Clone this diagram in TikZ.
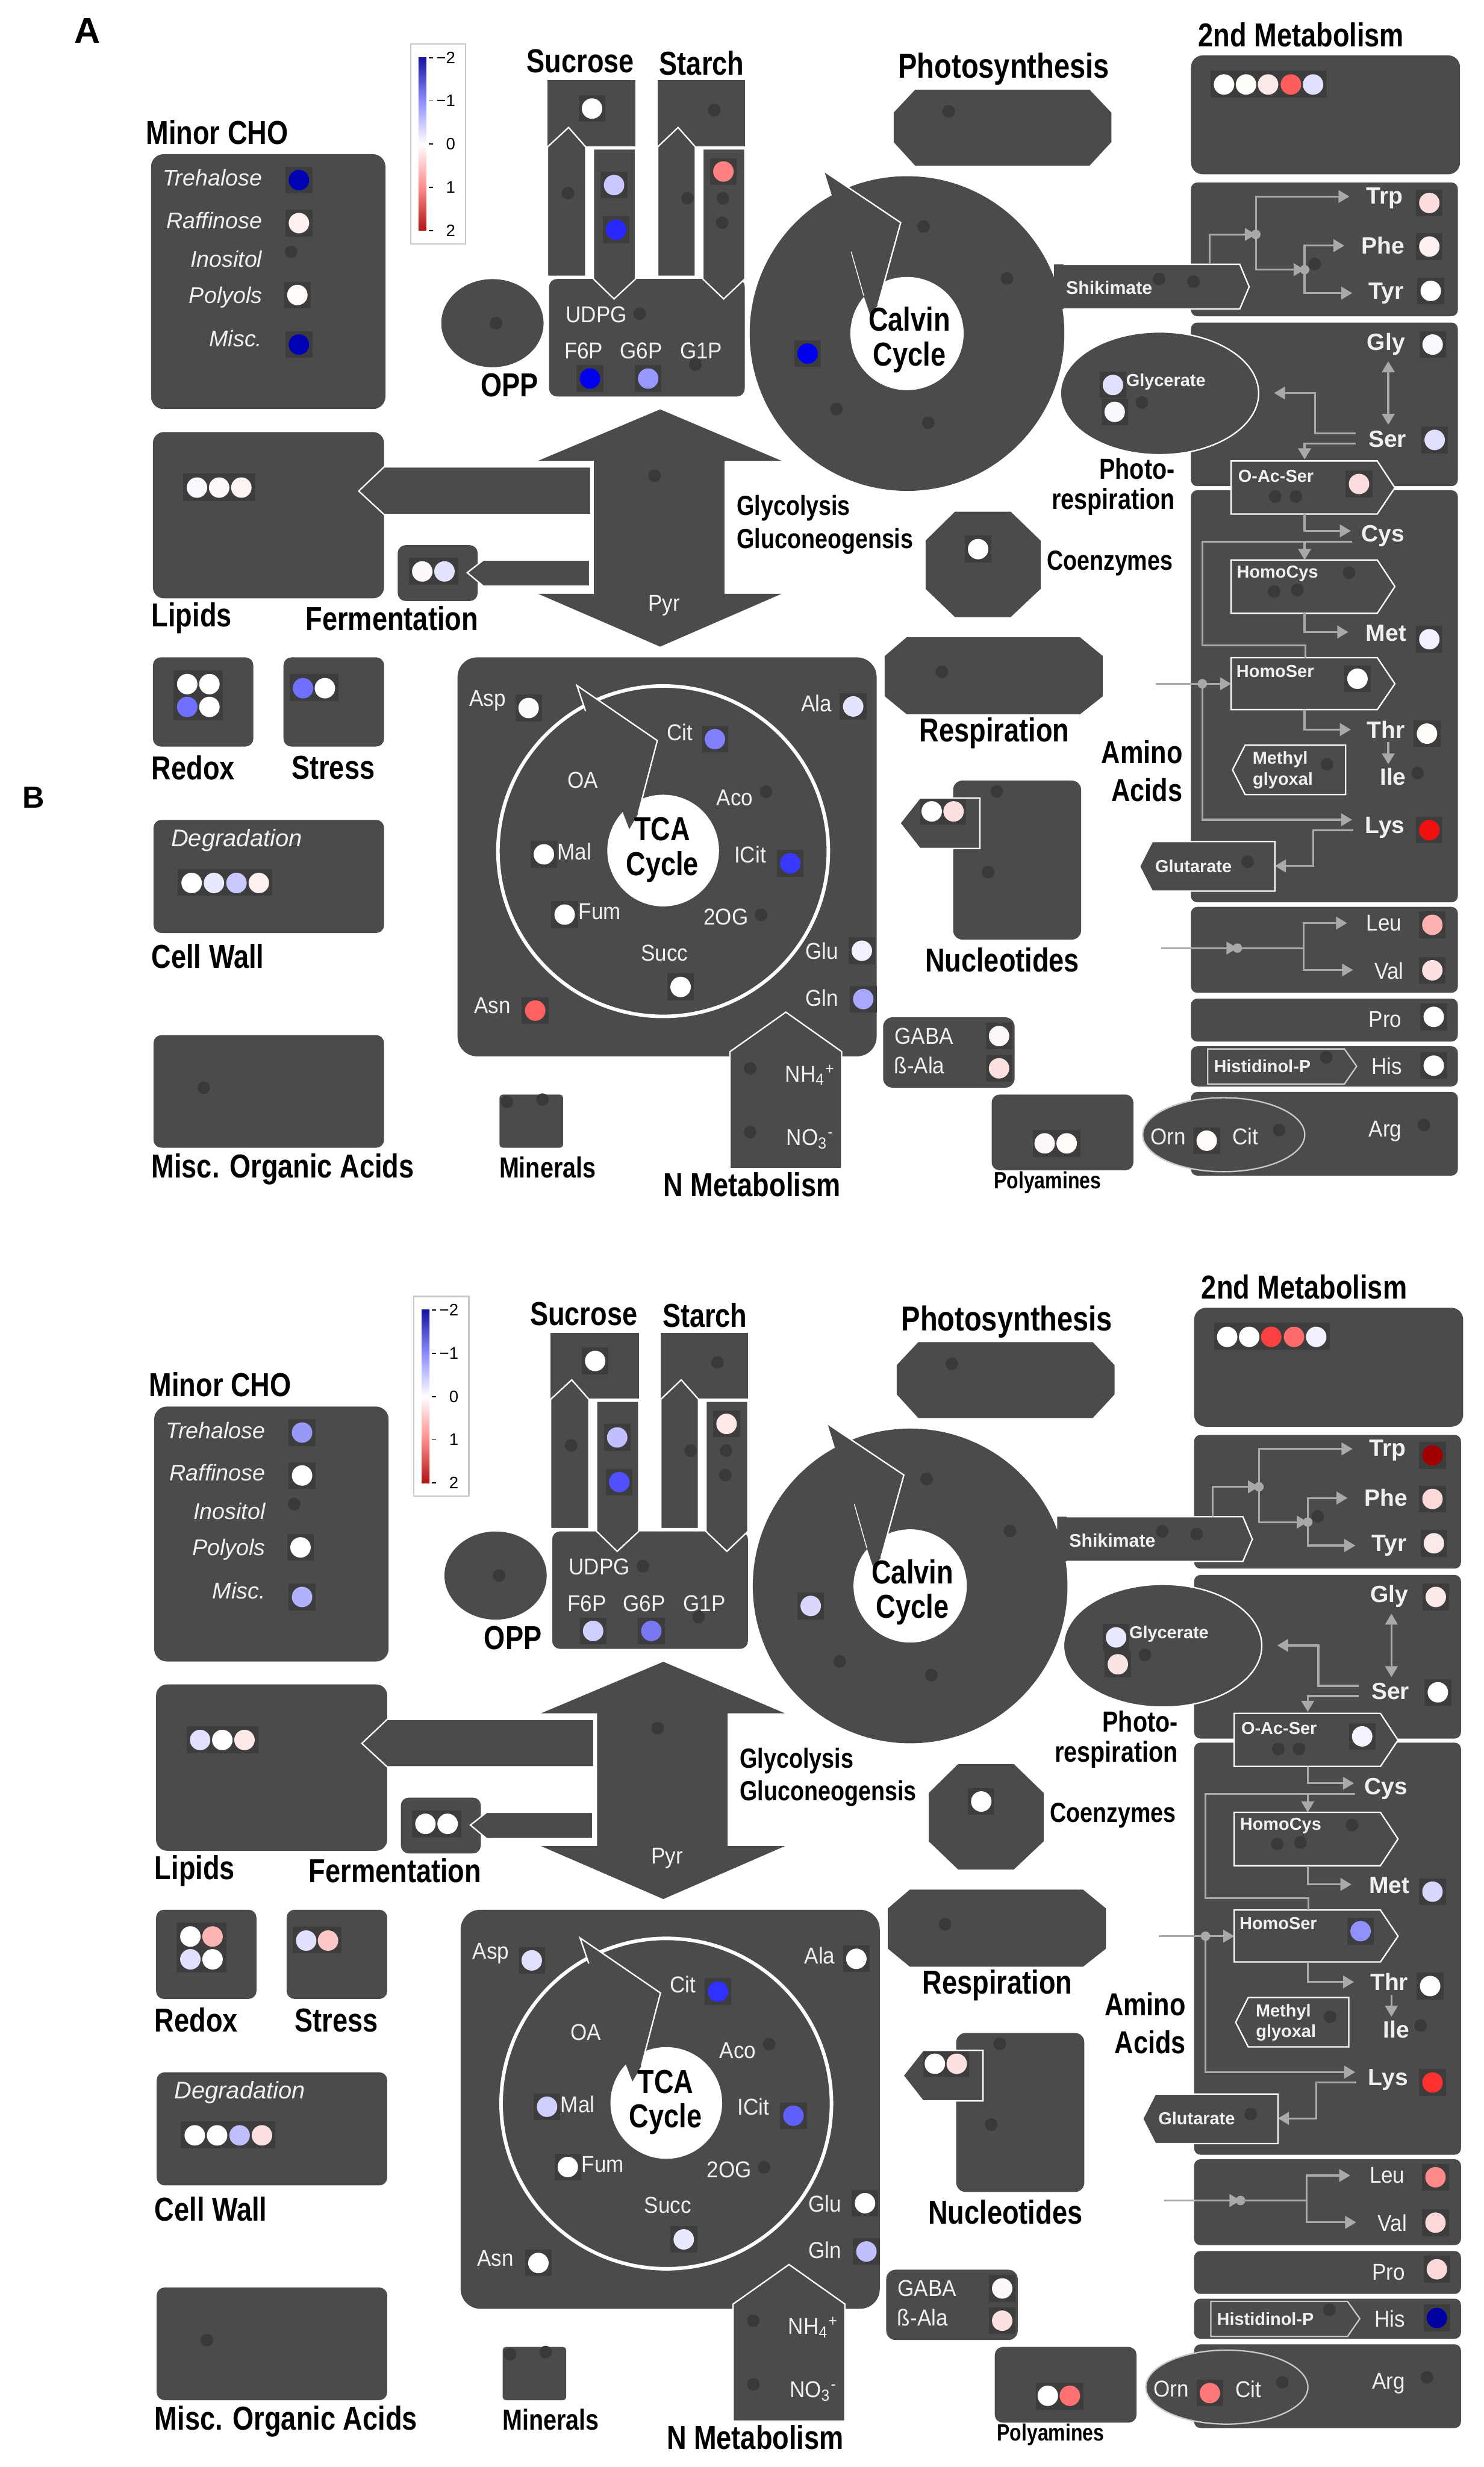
\documentclass[tikz,border=0pt]{standalone}
\usepackage{fontspec}
\setmainfont{Liberation Sans}
\newfontfamily\titlef[FakeStretch=0.82]{Liberation Sans}
\newfontfamily\innerf[FakeStretch=0.92]{Liberation Sans}
\usetikzlibrary{arrows.meta}
\definecolor{mapbox}{HTML}{4B4B4B}
\definecolor{dotbox}{HTML}{3D3D3D}
\definecolor{nodata}{HTML}{393939}
\definecolor{linkgray}{HTML}{A9A9A9}
\definecolor{labelw}{HTML}{F0F0F0}
\definecolor{legendline}{HTML}{C8C8C8}
\definecolor{scaleblue}{HTML}{1414A0}
\definecolor{scalelb}{HTML}{8C8CFF}
\definecolor{scalelr}{HTML}{FF8C8C}
\definecolor{scalered}{HTML}{B01414}

\newcommand{\ttlsize}[1]{\titlef\bfseries\fontsize{#1}{#1}\selectfont}
% spot with its dark frame
\newcommand{\spot}[3]{%
  \fill[dotbox] (#1-8.5,#2-8.5) rectangle (#1+8.5,#2+8.5);
  \fill[#3] (#1,#2) circle [radius=1.3mm];}
% spot in a strip
\newcommand{\bead}[3]{\fill[#3] (#1,#2) circle [radius=1.3mm];}
% spot without data
\newcommand{\nospot}[2]{\fill[nodata] (#1,#2) circle [radius=0.8mm];}

\newcommand{\paletteA}{%
  \definecolor{treh}{HTML}{0000B4}\definecolor{raff}{HTML}{FFF0F0}\definecolor{poly}{HTML}{FFFCFA}\definecolor{misc}{HTML}{0000B4}%
  \definecolor{suct}{HTML}{FFFFFF}\definecolor{suca}{HTML}{C8C8FF}\definecolor{sucb}{HTML}{2828FF}\definecolor{starch}{HTML}{FF8080}%
  \definecolor{fsix}{HTML}{0000F0}\definecolor{gsix}{HTML}{9898FF}\definecolor{calvin}{HTML}{0000F0}%
  \definecolor{secA}{HTML}{FFFFFF}\definecolor{secB}{HTML}{FFFDFA}\definecolor{secC}{HTML}{FDE8E8}\definecolor{secD}{HTML}{FF5C5C}\definecolor{secE}{HTML}{E0E0FF}%
  \definecolor{trp}{HTML}{FCDCDC}\definecolor{phe}{HTML}{FDF0F0}\definecolor{tyr}{HTML}{FFFFFF}\definecolor{gly}{HTML}{F8F8FF}\definecolor{ser}{HTML}{E0E0FF}%
  \definecolor{glycA}{HTML}{E0E0FF}\definecolor{glycB}{HTML}{F8F8FF}%
  \definecolor{oac}{HTML}{FCDCDC}\definecolor{met}{HTML}{F0F0FF}\definecolor{hser}{HTML}{FFFFFF}\definecolor{thr}{HTML}{FFFCFA}\definecolor{lys}{HTML}{F01010}%
  \definecolor{leu}{HTML}{FFB0B0}\definecolor{val}{HTML}{FDE0E0}\definecolor{pro}{HTML}{FFFFFF}\definecolor{his}{HTML}{FFFFFF}\definecolor{orn}{HTML}{FFFCFA}%
  \definecolor{polA}{HTML}{FFF8F8}\definecolor{polB}{HTML}{FFFCFA}\definecolor{gaba}{HTML}{FFF8F8}\definecolor{bala}{HTML}{FDE0E0}%
  \definecolor{lipA}{HTML}{F8F8FF}\definecolor{lipB}{HTML}{FFF8F8}\definecolor{lipC}{HTML}{FFF4F4}\definecolor{ferA}{HTML}{FFF8F8}\definecolor{ferB}{HTML}{E4E4FF}%
  \definecolor{rdxA}{HTML}{FFFFFF}\definecolor{rdxB}{HTML}{FFFFFF}\definecolor{rdxC}{HTML}{7070FF}\definecolor{rdxD}{HTML}{FFFFFF}%
  \definecolor{strA}{HTML}{7070FF}\definecolor{strB}{HTML}{FFFFFF}%
  \definecolor{degA}{HTML}{FFFFFF}\definecolor{degB}{HTML}{E8E8FF}\definecolor{degC}{HTML}{C8C8FF}\definecolor{degD}{HTML}{FFF0F0}%
  \definecolor{coenz}{HTML}{FFFFFF}\definecolor{nucA}{HTML}{FFFFFF}\definecolor{nucB}{HTML}{FDE0E0}%
  \definecolor{asp}{HTML}{FCFCFF}\definecolor{ala}{HTML}{E4E4FF}\definecolor{cit}{HTML}{8080FF}\definecolor{mal}{HTML}{FFFFFF}\definecolor{icit}{HTML}{3838FF}%
  \definecolor{fum}{HTML}{FFFFFF}\definecolor{succ}{HTML}{FFFFFF}\definecolor{glu}{HTML}{F0F0FF}\definecolor{gln}{HTML}{A8A8FF}\definecolor{asn}{HTML}{FF6060}}

\newcommand{\paletteB}{%
  \definecolor{treh}{HTML}{9898F8}\definecolor{raff}{HTML}{FFFFFF}\definecolor{poly}{HTML}{FFFFFF}\definecolor{misc}{HTML}{B0B0FF}%
  \definecolor{suct}{HTML}{FFFFFF}\definecolor{suca}{HTML}{C0C0FF}\definecolor{sucb}{HTML}{5050FF}\definecolor{starch}{HTML}{FFE8E8}%
  \definecolor{fsix}{HTML}{D0D0FF}\definecolor{gsix}{HTML}{7878F0}\definecolor{calvin}{HTML}{D8D8FF}%
  \definecolor{secA}{HTML}{FFFFFF}\definecolor{secB}{HTML}{FFFFFF}\definecolor{secC}{HTML}{FF4040}\definecolor{secD}{HTML}{FF6A6A}\definecolor{secE}{HTML}{F0F0FF}%
  \definecolor{trp}{HTML}{A00000}\definecolor{phe}{HTML}{FDD8D8}\definecolor{tyr}{HTML}{FDE8E8}\definecolor{gly}{HTML}{FDE8E8}\definecolor{ser}{HTML}{FFFFFF}%
  \definecolor{glycA}{HTML}{E8E8FF}\definecolor{glycB}{HTML}{FDE4E4}%
  \definecolor{oac}{HTML}{F4F4FF}\definecolor{met}{HTML}{D8D8FF}\definecolor{hser}{HTML}{9090FF}\definecolor{thr}{HTML}{FFFFFF}\definecolor{lys}{HTML}{FF3030}%
  \definecolor{leu}{HTML}{FF8A8A}\definecolor{val}{HTML}{FDD8D8}\definecolor{pro}{HTML}{FDD8D8}\definecolor{his}{HTML}{0000A0}\definecolor{orn}{HTML}{FF7878}%
  \definecolor{polA}{HTML}{FFFFFF}\definecolor{polB}{HTML}{FF7070}\definecolor{gaba}{HTML}{FFF8F8}\definecolor{bala}{HTML}{FDE0E0}%
  \definecolor{lipA}{HTML}{E0E0FF}\definecolor{lipB}{HTML}{FFFFFF}\definecolor{lipC}{HTML}{FDE8E8}\definecolor{ferA}{HTML}{FFFFFF}\definecolor{ferB}{HTML}{FFFFFF}%
  \definecolor{rdxA}{HTML}{FFFFFF}\definecolor{rdxB}{HTML}{FFB4B4}\definecolor{rdxC}{HTML}{E0E0FF}\definecolor{rdxD}{HTML}{FFFFFF}%
  \definecolor{strA}{HTML}{E0E0FF}\definecolor{strB}{HTML}{FFC8C8}%
  \definecolor{degA}{HTML}{FFFFFF}\definecolor{degB}{HTML}{FFFFFF}\definecolor{degC}{HTML}{C0C0FF}\definecolor{degD}{HTML}{FFE0E0}%
  \definecolor{coenz}{HTML}{FFFFFF}\definecolor{nucA}{HTML}{FFFFFF}\definecolor{nucB}{HTML}{FDE0E0}%
  \definecolor{asp}{HTML}{E0E0FF}\definecolor{ala}{HTML}{FFFFFF}\definecolor{cit}{HTML}{3030FF}\definecolor{mal}{HTML}{D0D0FF}\definecolor{icit}{HTML}{6060FF}%
  \definecolor{fum}{HTML}{FFFFFF}\definecolor{succ}{HTML}{E8E8FF}\definecolor{glu}{HTML}{FFFFFF}\definecolor{gln}{HTML}{C0C0FF}\definecolor{asn}{HTML}{FFFFFF}}

% one metabolism overview, #1 = prefix of node names
\newcommand{\mapman}[1]{%
  % colour scale
  \draw[legendline, fill=white, line width=0.5pt] (261,28) rectangle (296,155);
  \shade[top color=scaleblue, bottom color=scalelb] (266,36.6) rectangle (271,64.1);
  \shade[top color=scalelb, bottom color=white] (266,64.1) rectangle (271,91.6);
  \shade[top color=white, bottom color=scalelr] (266,91.6) rectangle (271,119.1);
  \shade[top color=scalelr, bottom color=scalered] (266,119.1) rectangle (271,146.6);
  \foreach \ty/\tl [count=\k] in {36.6/−2, 64.1/−1, 91.6/0, 119.1/1, 146.6/2} {
    \draw[line width=0.4pt] (272.5,\ty) -- (275.2,\ty);
    \node[scalenum, anchor=east] (#1scale\k) at (289.7,\ty) {\tl};
  }
  % minor CHO
  \fill[mapfill, rounded corners=1.6mm] (96,98) rectangle (245,260);
  \node[itl, anchor=east] (#1treh) at (167,113) {Trehalose};
  \node[itl, anchor=east] (#1raff) at (167,140) {Raffinose};
  \node[itl, anchor=east] (#1inos) at (167,164.5) {Inositol};
  \node[itl, anchor=east] (#1poly) at (167,189) {Polyols};
  \node[itl, anchor=east] (#1misc) at (167,215) {Misc.};
  \spot{190}{114.5}{treh} \spot{190}{141.8}{raff} \nospot{185}{160}
  \spot{189}{187.5}{poly} \spot{190}{219}{misc}
  % sucrose and starch
  \fill[mapfill, rounded corners=1mm] (349,177.3) rectangle (473.4,252);
  \fill[mapfill] (348,51) rectangle (404,93);
  \fill[mapfill] (418,51) rectangle (473.4,93);
  \filldraw[rim] (348,175.6) -- (348,93.4) -- (361.4,81) -- (372.3,93.4) -- (372.3,175.6) -- cycle;
  \filldraw[rim] (377.2,94.6) -- (404,94.6) -- (404,177.3) -- (390.3,190) -- (377.2,177.3) -- cycle;
  \filldraw[rim] (418,175.6) -- (418,93.4) -- (431,81) -- (442,93.4) -- (442,175.6) -- cycle;
  \filldraw[rim] (446.7,94.6) -- (473.4,94.6) -- (473.4,177.3) -- (460,190) -- (446.7,177.3) -- cycle;
  \node[lbl] (#1udpg) at (379,200) {UDPG};
  \node[lbl] (#1fsix) at (371,223) {F6P};
  \node[lbl] (#1gsix) at (407.5,223) {G6P};
  \node[lbl] (#1gone) at (445.7,223) {G1P};
  \nospot{406.6}{199.4} \spot{375}{240.6}{fsix} \spot{412}{240.6}{gsix} \nospot{442}{231.8}
  \spot{376.3}{69}{suct} \spot{390.3}{117.6}{suca} \spot{391.6}{146}{sucb} \nospot{361}{122.7}
  \nospot{454}{70} \spot{459.8}{109}{starch} \nospot{459.5}{126} \nospot{459}{141.5} \nospot{437}{126}
  % OPP and photosynthesis
  \fill[mapfill] (313,205.4) ellipse [x radius=6.5mm, y radius=5.6mm];
  \nospot{315.3}{205.4}
  \fill[mapfill] (581.7,57) -- (692.5,57) -- (706.4,71.6) -- (706.4,90.3) -- (692.5,105.3) -- (581.7,105.3) -- (568,90.3) -- (568,71.6) -- cycle;
  \nospot{603}{70.8}
  % secondary metabolism
  \fill[mapfill, rounded corners=1.5mm] (757,35.2) rectangle (928,110.8);
  \fill[dotbox] (769.6,44.7) rectangle (843.3,62);
  \bead{778}{53.7}{secA} \bead{792}{53.7}{secB} \bead{806}{53.7}{secC} \bead{820.5}{53.7}{secD} \bead{834.6}{53.7}{secE}
  % amino acid boxes
  \foreach \ya/\yb in {116/201, 205/309, 311.6/573.5, 576.4/631, 634.7/662, 665/690.5, 694/747.2}
    \fill[mapfill, rounded corners=0.8mm] (757,\ya) rectangle (926.6,\yb);
  % Calvin cycle
  \fill[mapfill] (576.5,212) circle [radius=20mm];
  \fill[white] (576.5,212) circle [radius=7.2mm];
  \fill[mapfill] (524,109) -- (572.5,141.5) -- (558,194) -- (553,200) -- (549,188) -- (541,160) -- (529,125) -- cycle;
  \draw[white, line width=0.5pt] (524,109) -- (572.5,141.5) -- (558,194);
  \draw[white, line width=0.3pt] (541,160) -- (549,188);
  \spot{513.3}{224.7}{calvin}
  \nospot{587}{144} \nospot{640}{177} \nospot{531.7}{260} \nospot{590}{268.7}
  % shikimate
  \fill[mapfill] (670,168) -- (788,168) -- (794,182.3) -- (788,196.4) -- (670,196.4) -- cycle;
  \draw[white, line width=0.5pt] (676,168) -- (788,168) -- (794,182.3) -- (788,196.4) -- (676,196.4);
  \node[tag, font=\bfseries\fontsize{6.6}{6.6}\selectfont] (#1shik) at (705,183) {Shikimate};
  \nospot{736.7}{177.3} \nospot{758.6}{179}
  \coordinate (#1shk) at (768.8,168);
  \coordinate (#1ja) at (798.2,149);
  \coordinate (#1jb) at (829.2,171.4);
  \coordinate (#1trpin) at (857.7,124.9);
  \coordinate (#1phein) at (854.5,156.1);
  \coordinate (#1tyrin) at (859.5,186.3);
  \draw[link, linkhead] (#1shk) |- (#1ja);
  \draw[link, linkhead] (#1ja) |- (#1trpin);
  \draw[link, linkhead] (#1ja) |- (#1jb);
  \draw[link, linkhead] (#1jb) |- (#1phein);
  \draw[link, linkhead] (#1jb) |- (#1tyrin);
  \fill[linkgray] (#1ja) circle [radius=0.6mm] (#1jb) circle [radius=0.6mm];
  % photorespiration
  \filldraw[rim] (737,250) ellipse [x radius=12.6mm, y radius=7.8mm];
  \node[tag] (#1glyc) at (741,242.7) {Glycerate};
  \spot{707.4}{244.7}{glycA} \spot{708.5}{261.8}{glycB} \nospot{725.8}{255.8}
  \coordinate (#1glyb) at (882.4,229.6);
  \coordinate (#1sert) at (882.4,270);
  \draw[link, twohead] (#1glyb) -- (#1sert);
  \coordinate (#1serw) at (861.8,275.5);
  \coordinate (#1bend) at (836,249.8);
  \coordinate (#1prin) at (809.8,249.8);
  \draw[link, linkhead] (#1serw) -| (#1bend) -- (#1prin);
  \coordinate (#1serv) at (861.8,282);
  \coordinate (#1oact) at (829.2,292);
  \draw[link, linkhead] (#1serv) -| (#1oact);
  % intermediates
  \filldraw[rim] (782.5,293) -- (875.4,293) -- (886.6,310) -- (875.4,326.7) -- (782.5,326.7) -- cycle;
  \node[tag] (#1oacser) at (811,302.5) {O-Ac-Ser};
  \spot{863.8}{307.6}{oac} \nospot{810.5}{315.6} \nospot{823.7}{315.6}
  \filldraw[rim] (782.5,355.9) -- (875.4,355.9) -- (886.6,372.8) -- (875.4,389.8) -- (782.5,389.8) -- cycle;
  \node[tag] (#1hcys) at (812,364.4) {HomoCys};
  \nospot{857.4}{364} \nospot{809.8}{376} \nospot{824.6}{375}
  \filldraw[rim] (782.5,418) -- (875.4,418) -- (886.6,434.6) -- (875.4,451) -- (782.5,451) -- cycle;
  \node[tag] (#1hser) at (810.5,426.5) {HomoSer};
  \spot{862.8}{431.4}{hser}
  \filldraw[rim] (791.4,473.6) -- (855.3,473.6) -- (855.3,505) -- (791.4,505) -- (783.4,489.3) -- cycle;
  \node[tag] (#1methyl) at (813.7,482.8) {Methyl};
  \node[tag] (#1glyox) at (815.4,496) {glyoxal};
  \nospot{843.4}{485.8}
  \filldraw[rim] (732.3,534.9) -- (810.3,534.9) -- (810.3,566.4) -- (732.3,566.4) -- (724.3,550.7) -- cycle;
  \node[tag] (#1glut) at (758.6,550.4) {Glutarate};
  \nospot{793}{547.7}
  % aspartate family
  \coordinate (#1oacb) at (829.2,326.7);
  \coordinate (#1cysin) at (858.6,337.4);
  \draw[link, linkhead] (#1oacb) |- (#1cysin);
  \coordinate (#1cysw) at (859.4,344.3);
  \coordinate (#1loop) at (764.2,410.3);
  \coordinate (#1hsert) at (829.7,418);
  \draw[link] (#1cysw) -| (#1loop) -| (#1hsert);
  \coordinate (#1cysd) at (829.2,344.3);
  \coordinate (#1hcyt) at (829.2,355.9);
  \draw[link, linkhead] (#1cysd) -- (#1hcyt);
  \coordinate (#1hcyb) at (829.2,389.8);
  \coordinate (#1metin) at (857,401.7);
  \draw[link, linkhead] (#1hcyb) |- (#1metin);
  \coordinate (#1hsin) at (734.5,434.6);
  \coordinate (#1jc) at (764.2,434.6);
  \coordinate (#1hserw) at (782.5,434.6);
  \draw[link] (#1hsin) -- (#1jc);
  \draw[link, linkhead] (#1jc) -- (#1hserw);
  \coordinate (#1lysin) at (859.4,521);
  \draw[link, linkhead] (#1jc) |- (#1lysin);
  \fill[linkgray] (#1jc) circle [radius=0.6mm];
  \coordinate (#1hserb) at (829.2,451);
  \coordinate (#1thrin) at (858.6,463.7);
  \draw[link, linkhead] (#1hserb) |- (#1thrin);
  \coordinate (#1thrb) at (882.4,471.7);
  \coordinate (#1ilet) at (882.4,485.8);
  \draw[link, linkhead] (#1thrb) -- (#1ilet);
  \coordinate (#1lysw) at (860,527.6);
  \coordinate (#1lbend) at (834.6,550.4);
  \coordinate (#1glutin) at (810.3,550.4);
  \draw[link, linkhead] (#1lysw) -| (#1lbend) -- (#1glutin);
  \node[aa] (#1trp) at (880,125.9) {Trp};
  \node[aa] (#1phe) at (879,156) {Phe};
  \node[aa] (#1tyr) at (881,186.3) {Tyr};
  \node[aa] (#1gly) at (881,218.6) {Gly};
  \node[aa] (#1ser) at (881.8,279) {Ser};
  \node[aa] (#1cys) at (879,340.8) {Cys};
  \node[aa] (#1met) at (881,402.3) {Met};
  \node[aa] (#1thr) at (881,463.7) {Thr};
  \node[aa] (#1ile) at (885.4,493.8) {Ile};
  \node[aa] (#1lys) at (880.3,526) {Lys};
  \spot{908.5}{129}{trp} \spot{908.5}{156.7}{phe} \spot{909.4}{184.9}{tyr} \nospot{835.6}{167.8}
  \spot{910.6}{219}{gly} \spot{911.9}{279.6}{ser}
  \spot{908.5}{406.3}{met} \spot{907}{466.3}{thr} \nospot{901}{491.3} \spot{908.5}{527.6}{lys}
  % branched chain, proline, histidine, arginine
  \coordinate (#1bin) at (738,602.6);
  \coordinate (#1jd) at (786.5,602.6);
  \coordinate (#1je) at (828.5,602.6);
  \coordinate (#1leuin) at (856.2,586.7);
  \coordinate (#1valin) at (860,616.5);
  \draw[link, linkhead] (#1bin) -- (#1jd);
  \draw[link] (#1jd) -- (#1je);
  \draw[link, linkhead] (#1je) |- (#1leuin);
  \draw[link, linkhead] (#1je) |- (#1valin);
  \fill[linkgray] (#1jd) circle [radius=0.6mm];
  \node[lbl] (#1leu) at (879.7,586.7) {Leu};
  \node[lbl] (#1val) at (883,617) {Val};
  \spot{910.4}{587.8}{leu} \spot{910.4}{616.7}{val}
  \node[lbl] (#1pro) at (880.5,648) {Pro};
  \spot{911.3}{646.3}{pro}
  \filldraw[rim, draw=legendline] (767.6,666.7) -- (854.5,666.7) -- (862.3,677.7) -- (854.5,689) -- (767.6,689) -- cycle;
  \node[tag] (#1hisp) at (802.3,677.7) {Histidinol-P};
  \nospot{843}{672}
  \node[lbl] (#1his) at (881.5,677.7) {His};
  \spot{911.3}{677.3}{his}
  \filldraw[rim, draw=legendline] (777.8,721.2) ellipse [x radius=10.3mm, y radius=4.7mm];
  \node[lbl] (#1orn) at (742.5,722.4) {Orn};
  \node[lbl] (#1citr) at (791.6,722.4) {Cit};
  \spot{767}{725}{orn} \nospot{813}{718.2}
  \node[lbl] (#1arg) at (880.5,719) {Arg};
  \nospot{905}{715}
  % polyamines and GABA
  \fill[mapfill, rounded corners=1mm] (630.3,695.7) rectangle (720.4,743.8);
  \fill[dotbox] (656.5,718.2) rectangle (686.7,735.5);
  \bead{664}{726.7}{polA} \bead{678}{726.7}{polB}
  \fill[mapfill, rounded corners=1.2mm] (561.3,646.6) rectangle (644.9,691.3);
  \node[lbl] (#1gaba) at (587.3,658.5) {GABA};
  \node[lbl] (#1bala) at (584.4,677) {ß-Ala};
  \spot{635}{658.5}{gaba} \spot{635}{679}{bala}
  % lipids, fermentation, glycolysis
  \fill[mapfill, rounded corners=1.4mm] (97.2,274.6) rectangle (244.1,380.3);
  \filldraw[rim] (375.5,296.8) -- (244.1,296.8) -- (228,312.1) -- (244.1,327) -- (375.5,327) -- cycle;
  \fill[dotbox] (116.5,301) rectangle (162.4,318.4);
  \bead{125.2}{309.9}{lipA} \bead{139.3}{309.9}{lipB} \bead{153.4}{309.9}{lipC}
  \fill[mapfill, rounded corners=1mm] (252.8,346.5) rectangle (303.6,382);
  \filldraw[rim] (374.8,355.9) -- (307.3,355.9) -- (297,364) -- (307.3,372.6) -- (374.8,372.6) -- cycle;
  \fill[dotbox] (260,354.6) rectangle (291.2,371.8);
  \bead{268.4}{363.2}{ferA} \bead{282.5}{363.2}{ferB}
  \fill[mapfill] (419.6,260.2) -- (496.8,292.9) -- (460.5,292.9) -- (460.5,377.4) -- (496.8,377.4) -- (419.6,411) -- (342,377.4) -- (377.5,377.4) -- (377.5,292.9) -- (342,292.9) -- cycle;
  \nospot{416}{302.4}
  \node[lbl] (#1pyr) at (422,385) {Pyr};
  % coenzymes and respiration
  \fill[mapfill] (607,325.2) -- (642.4,325.2) -- (661.4,343.6) -- (661.4,374.3) -- (642.4,392.2) -- (607,392.2) -- (588.3,374.3) -- (588.3,343.6) -- cycle;
  \spot{621.7}{349}{coenz}
  \fill[mapfill] (576.3,405) -- (686.4,405) -- (701,417) -- (701,442.5) -- (686.4,454) -- (576.3,454) -- (562.3,442.5) -- (562.3,417) -- cycle;
  \nospot{598.6}{427}
  % redox, stress, cell wall, misc
  \fill[mapfill, rounded corners=1mm] (97.2,417.8) rectangle (161,474.5);
  \fill[dotbox] (110.3,426) rectangle (141.8,457.8);
  \bead{119}{434.8}{rdxA} \bead{133.1}{434.8}{rdxB} \bead{119}{449.3}{rdxC} \bead{133.1}{449.3}{rdxD}
  \fill[mapfill, rounded corners=1mm] (180.2,417.8) rectangle (244.1,474.5);
  \fill[dotbox] (184.1,428.5) rectangle (215.1,445.5);
  \bead{192.6}{437.4}{strA} \bead{206.5}{437.4}{strB}
  \fill[mapfill, rounded corners=1mm] (97.6,521.1) rectangle (244.1,593);
  \node[itl, anchor=west, font=\itshape\fontsize{8.7}{8.7}\selectfont] (#1degr) at (108.4,534.1) {Degradation};
  \fill[dotbox] (113,552.3) rectangle (172.9,569.4);
  \bead{121.8}{561.2}{degA} \bead{136}{561.2}{degB} \bead{150.3}{561.2}{degC} \bead{164.5}{561.2}{degD}
  \fill[mapfill, rounded corners=1mm] (97.6,657.9) rectangle (244.1,729.5);
  \nospot{129.5}{691.3}
  \fill[mapfill, rounded corners=0.4mm] (317.5,695.7) rectangle (357.9,729.5);
  \nospot{322.2}{700.3} \nospot{344.8}{698.9}
  % TCA cycle
  \fill[mapfill, rounded corners=2.5mm] (290.8,417.8) rectangle (557.2,671.4);
  \draw[white, line width=0.45mm] (421.5,541) circle [radius=21mm];
  \fill[white] (421.5,540.6) circle [radius=7.1mm];
  \fill[mapfill] (366.7,435.7) -- (417.8,470.7) -- (405.7,517) -- (400,527) -- (395.5,515.4) -- (383,462) -- (372.2,452) -- cycle;
  \draw[white, line width=0.5pt] (372.2,452) -- (366.7,435.7) -- (417.8,470.7) -- (405.7,517);
  \node[lbl] (#1asp) at (310,445.5) {Asp};
  \node[lbl] (#1ala) at (519,447) {Ala};
  \node[lbl] (#1cit) at (432,465.3) {Cit};
  \node[lbl] (#1oa) at (370.4,495.9) {OA};
  \node[lbl] (#1aco) at (467,507.2) {Aco};
  \node[lbl] (#1mal) at (365.2,541.4) {Mal};
  \node[lbl] (#1icit) at (476.8,543) {ICit};
  \node[lbl] (#1fum) at (381.2,579.6) {Fum};
  \node[lbl] (#1og) at (461.4,582.9) {2OG};
  \node[lbl] (#1succ) at (422.4,605.7) {Succ};
  \node[lbl] (#1glu) at (522.4,604.5) {Glu};
  \node[lbl] (#1gln) at (522.4,634.1) {Gln};
  \node[lbl] (#1asn) at (312.9,639.2) {Asn};
  \spot{336}{450}{asp} \spot{542.3}{449}{ala} \spot{454.4}{469.8}{cit} \nospot{486.9}{503.2}
  \spot{345.7}{543}{mal} \spot{502.3}{548.7}{icit} \spot{358.9}{581.3}{fum} \nospot{483.7}{581.5}
  \spot{432.6}{627.3}{succ} \spot{547.8}{604.3}{glu} \spot{548.7}{635}{gln} \spot{340.2}{642.3}{asn}
  % N metabolism
  \filldraw[rim] (464,742.8) -- (464,668.4) -- (499.5,643.3) -- (535,668.4) -- (535,742.8) -- cycle;
  \node[lbl] (#1nh) at (515,683.3) {NH\textsubscript{4}\textsuperscript{+}};
  \node[lbl] (#1no) at (515,724) {NO\textsubscript{3}\textsuperscript{-}};
  \nospot{476.8}{679} \nospot{476.8}{719.5}
  % nucleotides
  \fill[mapfill, rounded corners=1.2mm] (605.8,496.1) rectangle (687.2,597.2);
  \filldraw[rim] (622.8,507.2) -- (584.6,507.2) -- (572,523.2) -- (584.6,539.3) -- (622.8,539.3) -- cycle;
  \fill[dotbox] (585,508) rectangle (614,524);
  \bead{592.2}{515.7}{nucA} \bead{606.1}{515.7}{nucB}
  \nospot{633.5}{503} \nospot{628}{554.3}
  % titles
  \node[ttl] (#1minorl) at (138,84) {Minor CHO};
  \node[ttl] (#1sucl) at (369,39) {Sucrose};
  \node[ttl] (#1starchl) at (446,40) {Starch};
  \node[ttl, font=\ttlsize{12.5}] (#1photol) at (638,44) {Photosynthesis};
  \node[ttl] (#1secl) at (827,22) {2nd Metabolism};
  \node[ttl] (#1oppl) at (324,245) {OPP};
  \node[ttl] (#1calvl) at (578,203) {Calvin};
  \node[ttl] (#1calvc) at (578,227) {Cycle};
  \node[ttl, font=\ttlsize{10}, anchor=west] (#1glyl) at (468,323) {Glycolysis};
  \node[ttl, font=\ttlsize{10}, anchor=west] (#1glucl) at (468,344) {Gluconeogensis};
  \node[ttl, font=\ttlsize{10.5}, anchor=east] (#1prl) at (747,298) {Photo-};
  \node[ttl, font=\ttlsize{10.5}, anchor=east] (#1prr) at (747,319) {respiration};
  \node[ttl, font=\ttlsize{10}, anchor=west] (#1coenl) at (665,358) {Coenzymes};
  \node[ttl, anchor=west] (#1lipl) at (96,393) {Lipids};
  \node[ttl, anchor=west] (#1ferl) at (194,393) {Fermentation};
  \node[ttl] (#1respl) at (632,466) {Respiration};
  \node[ttl, font=\ttlsize{11.5}, anchor=east] (#1aminol) at (752,478) {Amino};
  \node[ttl, font=\ttlsize{11.5}, anchor=east] (#1acidl) at (752,502) {Acids};
  \node[ttl, anchor=west] (#1redl) at (96,488) {Redox};
  \node[ttl, anchor=west] (#1strl) at (185,488) {Stress};
  \node[ttl] (#1nucl) at (637,610) {Nucleotides};
  \node[ttl, anchor=west] (#1cwl) at (96,608) {Cell Wall};
  \node[ttl, anchor=west] (#1mol) at (96,743) {Misc. Organic Acids};
  \node[ttl, font=\ttlsize{10.5}, anchor=west] (#1minl) at (317,742) {Minerals};
  \node[ttl] (#1nml) at (478,753) {N Metabolism};
  \node[ttl, font=\ttlsize{8.5}] (#1polyl) at (665.8,751.5) {Polyamines};
  \node[ttl] (#1tcal) at (421,527) {TCA};
  \node[ttl] (#1tcac) at (421,551) {Cycle};
}

\begin{document}
\begin{tikzpicture}[x=0.2mm, y=-0.2mm,
  mapfill/.style={fill=mapbox},
  rim/.style={fill=mapbox, draw=white, line width=0.5pt},
  link/.style={draw=linkgray, line width=0.7pt},
  linkhead/.style={-{Triangle[length=1.4mm, width=1.6mm]}},
  twohead/.style={{Triangle[length=1.4mm, width=1.6mm]}-{Triangle[length=1.4mm, width=1.6mm]}},
  ttl/.style={font=\ttlsize{12}, inner sep=0pt},
  lbl/.style={font=\innerf\fontsize{8.3}{8.3}\selectfont, text=labelw, inner sep=0pt},
  aa/.style={font=\bfseries\fontsize{8.5}{8.5}\selectfont, text=labelw, inner sep=0pt},
  tag/.style={font=\bfseries\fontsize{6.3}{6.3}\selectfont, text=labelw, inner sep=0pt},
  itl/.style={font=\itshape\fontsize{8.2}{8.2}\selectfont, text=labelw, inner sep=0pt},
  scalenum/.style={font=\fontsize{6}{6}\selectfont, inner sep=0pt}]
\useasboundingbox (0,0) rectangle (943,1568);
\node[font=\bfseries\fontsize{13}{13}\selectfont, inner sep=0pt] (panela) at (55.4,19.6) {A};
\node[font=\bfseries\fontsize{11}{11}\selectfont, inner sep=0pt] (panelb) at (21.4,507) {B};
\begin{scope}
  \paletteA
  \mapman{a}
\end{scope}
\begin{scope}[shift={(2,796)}]
  \paletteB
  \mapman{b}
\end{scope}
\end{tikzpicture}
\end{document}
